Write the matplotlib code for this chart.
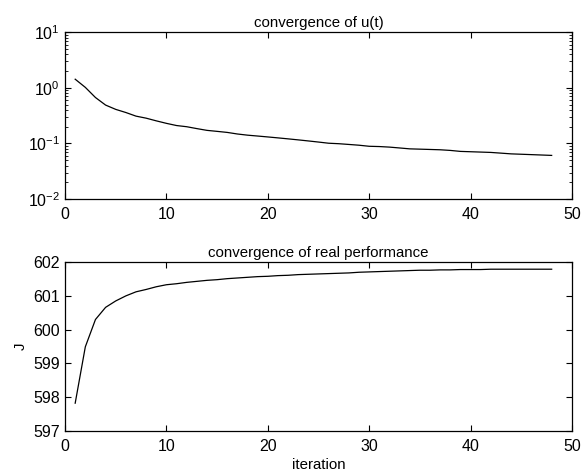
import matplotlib
matplotlib.use("Agg")
import matplotlib.pyplot as plt
from matplotlib.ticker import LogLocator, NullFormatter
import numpy as np

plt.rcParams['font.family'] = ['Liberation Sans', 'DejaVu Sans']
plt.rcParams['mathtext.fontset'] = 'custom'
plt.rcParams['mathtext.rm'] = 'Liberation Sans'

# iteration numbers
iteration = list(range(1, 49))

# convergence of u(t)
u_conv = [1.43, 1.02, 0.67, 0.49, 0.41, 0.36, 0.31, 0.285, 0.255, 0.23,
          0.21, 0.20, 0.185, 0.172, 0.165, 0.158, 0.148, 0.141, 0.136, 0.131,
          0.126, 0.121, 0.116, 0.111, 0.106, 0.101, 0.099, 0.096, 0.093, 0.089,
          0.088, 0.086, 0.083, 0.080, 0.079, 0.078, 0.077, 0.075, 0.072, 0.071,
          0.070, 0.069, 0.067, 0.065, 0.064, 0.063, 0.062, 0.061]

# real performance J
J = [597.82, 599.49, 600.30, 600.66, 600.85, 601.00, 601.12, 601.19, 601.27, 601.33,
     601.36, 601.40, 601.43, 601.46, 601.48, 601.51, 601.53, 601.55, 601.57, 601.58,
     601.60, 601.61, 601.63, 601.64, 601.65, 601.66, 601.67, 601.68, 601.70, 601.71,
     601.72, 601.73, 601.74, 601.75, 601.76, 601.76, 601.77, 601.77, 601.78, 601.78,
     601.78, 601.79, 601.79, 601.79, 601.79, 601.79, 601.79, 601.79]

fig = plt.figure(figsize=(5.86, 4.74), dpi=100)
ax1 = fig.add_axes([0.111, 0.580, 0.865, 0.352])
ax2 = fig.add_axes([0.111, 0.091, 0.865, 0.356])

# top: u(t) on log scale
ax1.semilogy(iteration, u_conv, color='black', linewidth=0.9)
ax1.set_xlim(0, 50)
ax1.set_ylim(1e-2, 1e1)
ax1.set_xticks([0, 10, 20, 30, 40, 50])
ax1.yaxis.set_major_locator(LogLocator(base=10, numticks=10))
ax1.yaxis.set_minor_locator(LogLocator(base=10, subs=np.arange(2, 10), numticks=10))
ax1.yaxis.set_minor_formatter(NullFormatter())
ax1.set_title('convergence of u(t)', fontsize=10.8, pad=4)

# bottom: J
ax2.plot(iteration, J, color='black', linewidth=0.9)
ax2.set_xlim(0, 50)
ax2.set_ylim(597, 602)
ax2.set_xticks([0, 10, 20, 30, 40, 50])
ax2.set_yticks([597, 598, 599, 600, 601, 602])
ax2.set_title('convergence of real performance', fontsize=10.8, pad=4)
ax2.set_xlabel('iteration', fontsize=10.8, labelpad=3)
ax2.set_ylabel('J', fontsize=10.8, labelpad=4)

for ax in (ax1, ax2):
    ax.tick_params(which='both', direction='in', top=True, right=True, labelsize=11.5)
    ax.tick_params(axis='x', pad=6)
    ax.tick_params(which='major', length=4, width=0.8)
    ax.tick_params(which='minor', length=2, width=0.6)
    for s in ax.spines.values():
        s.set_linewidth(0.9)

fig.savefig('out.png', dpi=100)
